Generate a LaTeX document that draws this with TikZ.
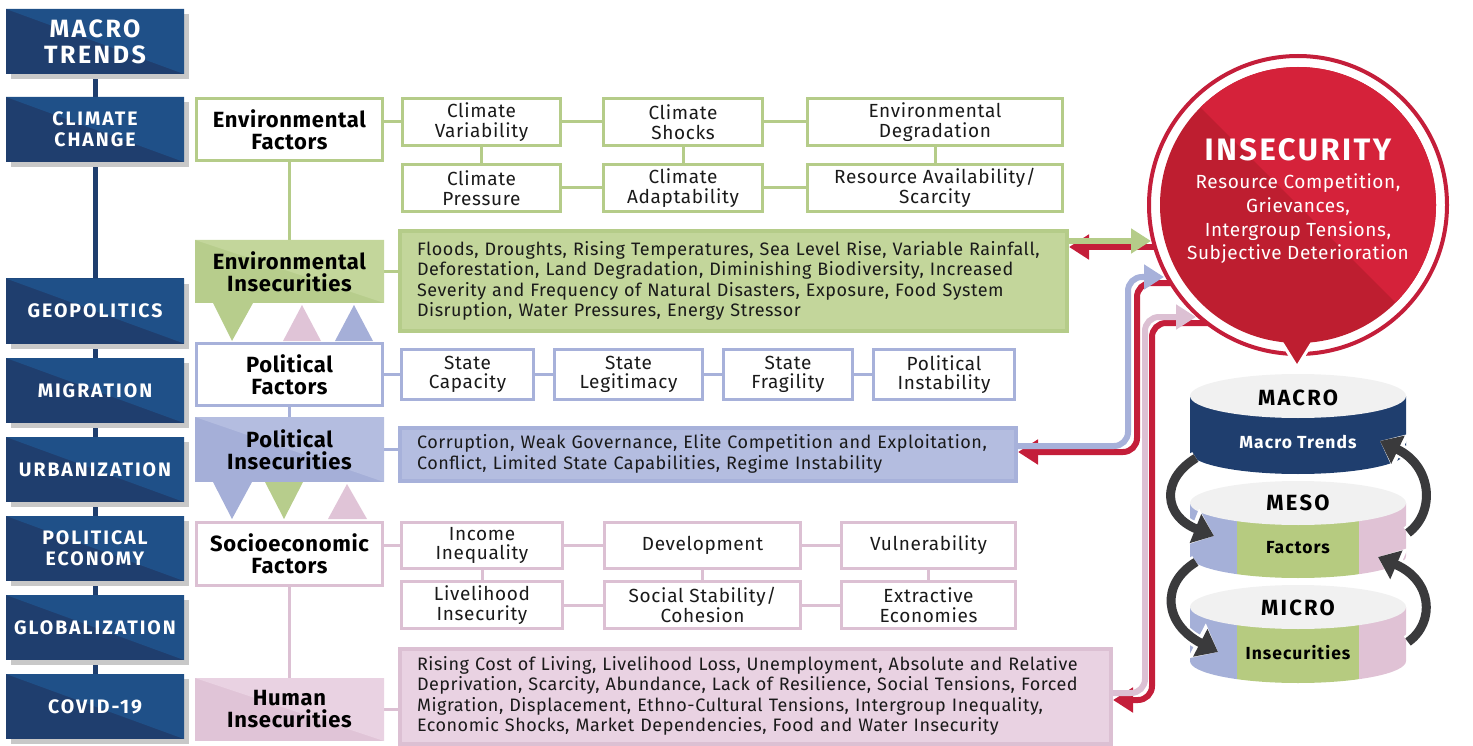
\documentclass[tikz,border=0pt]{standalone}
\usepackage{fontspec}
\setmainfont{Fira Sans}
\usepackage{xcolor}
\usetikzlibrary{arrows.meta,positioning,calc,shadows,backgrounds}
\definecolor{navydark}{RGB}{31,62,110}
\definecolor{navylight}{RGB}{31,80,136}
\definecolor{shadowgray}{RGB}{200,200,200}
\definecolor{envline}{RGB}{181,204,137}
\definecolor{envfill}{RGB}{195,214,155}
\definecolor{envdark}{RGB}{183,205,140}
\definecolor{polline}{RGB}{167,177,218}
\definecolor{polfill}{RGB}{180,189,224}
\definecolor{poldark}{RGB}{165,175,216}
\definecolor{humline}{RGB}{220,192,211}
\definecolor{humfill}{RGB}{233,210,226}
\definecolor{humdark}{RGB}{224,196,215}
\definecolor{insred}{RGB}{196,30,58}
\definecolor{insredlight}{RGB}{213,34,58}
\definecolor{insreddark}{RGB}{190,30,48}
\definecolor{cycgray}{RGB}{58,58,60}
\definecolor{cyltop}{RGB}{241,241,241}
\definecolor{cylgreen}{RGB}{182,203,128}
\definecolor{cylblue}{RGB}{165,176,216}
\definecolor{cylpink}{RGB}{224,194,213}
\definecolor{inktext}{RGB}{26,26,26}

\tikzset{
  halftone/.style={path picture={\fill[#1] (path picture bounding box.north west) -- (path picture bounding box.north east) -- (path picture bounding box.south east) -- cycle;}},
  trendbox/.style={rectangle, fill=navydark, halftone=navylight, minimum width=178pt, minimum height=65pt, inner sep=0pt, align=center, text=white,
    font=\fontsize{19.5}{21}\selectfont\bfseries\addfontfeatures{LetterSpace=10},
    drop shadow={shadow xshift=5pt, shadow yshift=-5pt, fill=shadowgray, opacity=1}},
  factorbox/.style={rectangle, draw=#1, line width=3pt, fill=white, minimum width=186pt, minimum height=62pt, inner sep=0pt, align=center, text=black,
    font=\fontsize{22}{22}\selectfont\bfseries\addfontfeatures{LetterSpace=3}},
  insbox/.style 2 args={rectangle, fill=#1, halftone=#2, minimum width=189pt, minimum height=63pt, inner sep=0pt, align=center, text=black,
    font=\fontsize{22}{22}\selectfont\bfseries\addfontfeatures{LetterSpace=3}},
  smallbox/.style={rectangle, draw=#1, line width=3pt, fill=white, minimum height=47pt, inner sep=0pt, align=center, text=inktext,
    font=\fontsize{19}{19.5}\selectfont\addfontfeatures{LetterSpace=3.5}},
  textbox/.style={rectangle, fill=#1, line width=4pt, inner xsep=17pt, inner ysep=0pt, align=left, text=inktext,
    font=\fontsize{18}{20.5}\selectfont\addfontfeatures{LetterSpace=3}},
  link/.style={draw=#1, line width=3pt},
  flow/.style={draw=#1, line width=6pt, rounded corners=14pt, -{Triangle[length=20pt,width=24pt]}},
  cycarrow/.style={draw=cycgray, line width=9pt, -{Triangle[length=20pt,width=30pt]},
    preaction={draw=white, line width=14pt, -{Triangle[length=24pt,width=38pt]}}},
  cyllabel/.style={font=\fontsize{22}{22}\selectfont\bfseries\addfontfeatures{LetterSpace=10}, text=black},
  cylinner/.style={font=\fontsize{17.5}{18}\selectfont\bfseries\addfontfeatures{LetterSpace=6}},
}

\begin{document}
\begin{tikzpicture}[x=1pt,y=-1pt]
\useasboundingbox (0,0) rectangle (1473,746);

% Macro trends column
\node[trendbox, font=\fontsize{25}{26}\selectfont\bfseries\addfontfeatures{LetterSpace=10}] (macro) at (95,41.5) {MACRO\\TRENDS};
\node[trendbox] (climate) at (95,129.5) {CLIMATE\\CHANGE};
\node[trendbox] (geopol) at (95,311) {GEOPOLITICS};
\node[trendbox] (migration) at (95,390.5) {MIGRATION};
\node[trendbox] (urban) at (95,469.5) {URBANIZATION};
\node[trendbox] (poleco) at (95,548.5) {POLITICAL\\ECONOMY};
\node[trendbox] (global) at (95,627.5) {GLOBALIZATION};
\node[trendbox] (covid) at (95,706.5) {COVID-19};
\begin{scope}[on background layer]
  \draw[navydark, line width=5pt] (macro.south) -- (covid.north);
\end{scope}

% Environmental
\node[factorbox=envline] (envfac) at (289.5,129.5) {Environmental\\Factors};
\node[insbox={envdark}{envfill}] (envins) at (289.5,271.5) {Environmental\\Insecurities};
\node[smallbox=envline, minimum width=158pt] (cv) at (481.5,122) {Climate\\Variability};
\node[smallbox=envline, minimum width=159pt] (cs) at (683,122) {Climate\\Shocks};
\node[smallbox=envline, minimum width=255pt] (ed) at (935,122) {Environmental\\Degradation};
\node[smallbox=envline, minimum width=158pt] (cp) at (481.5,188) {Climate\\Pressure};
\node[smallbox=envline, minimum width=159pt] (ca) at (683,188) {Climate\\Adaptability};
\node[smallbox=envline, minimum width=255pt] (ra) at (935,188) {Resource Availability/\\Scarcity};
\node[textbox=envfill, draw=envline, minimum width=667pt, minimum height=99pt, text width=633pt] (envtext) at (733.5,281)
  {Floods, Droughts, Rising Temperatures, Sea Level Rise, Variable Rainfall,\\
   Deforestation, Land Degradation, Diminishing Biodiversity, Increased\\
   Severity and Frequency of Natural Disasters, Exposure, Food System\\
   Disruption, Water Pressures, Energy Stressor};
\begin{scope}[on background layer]
  \draw[link=envline] (envfac.east |- cv.west) -- (cv.west);
  \draw[link=envline] (cv) -- (cs);
  \draw[link=envline] (cs) -- (ed);
  \draw[link=envline] (cp) -- (ca);
  \draw[link=envline] (ca) -- (ra);
  \draw[link=envline] (cv) -- (cp);
  \draw[link=envline] (cs) -- (ca);
  \draw[link=envline] (ed) -- (ra);
  \draw[link=envline] (envfac) -- (envins);
  \draw[link=envline] (envins.east) -- (envtext.west |- envins.east);
\end{scope}

% Political
\node[factorbox=polline] (polfac) at (289.5,374.5) {Political\\Factors};
\node[insbox={poldark}{polfill}, minimum height=65pt] (polins) at (289.5,449.5) {Political\\Insecurities};
\node[smallbox=polline, minimum width=132pt, minimum height=50pt] (sc) at (467.5,374.5) {State\\Capacity};
\node[smallbox=polline, minimum width=148pt, minimum height=50pt] (sl) at (628.5,374.5) {State\\Legitimacy};
\node[smallbox=polline, minimum width=129pt, minimum height=50pt] (sf) at (788,374.5) {State\\Fragility};
\node[smallbox=polline, minimum width=141pt, minimum height=50pt] (pi) at (944,374.5) {Political\\Instability};
\node[textbox=polfill, draw=polline, minimum width=616pt, minimum height=53pt, text width=582pt] (poltext) at (708,454)
  {Corruption, Weak Governance, Elite Competition and Exploitation,\\
   Conflict, Limited State Capabilities, Regime Instability};
\begin{scope}[on background layer]
  \draw[link=polline] (polfac) -- (sc);
  \draw[link=polline] (sc) -- (sl);
  \draw[link=polline] (sl) -- (sf);
  \draw[link=polline] (sf) -- (pi);
  \draw[link=polline] (polfac) -- (polins);
  \draw[link=polline] (polins.east) -- (poltext.west |- polins.east);
\end{scope}

% Socioeconomic
\node[factorbox=humline, minimum height=63pt] (socfac) at (289.5,554) {Socioeconomic\\Factors};
\node[insbox={humdark}{humfill}] (humins) at (289.5,709.5) {Human\\Insecurities};
\node[smallbox=humline, minimum width=161pt, minimum height=46pt] (ii) at (482,545.5) {Income\\Inequality};
\node[smallbox=humline, minimum width=196pt, minimum height=46pt] (dv) at (702.5,545.5) {Development};
\node[smallbox=humline, minimum width=174pt, minimum height=46pt] (vu) at (928.5,545.5) {Vulnerability};
\node[smallbox=humline, minimum width=161pt] (li) at (482,605) {Livelihood\\Insecurity};
\node[smallbox=humline, minimum width=196pt] (ss) at (702.5,605) {Social Stability/\\Cohesion};
\node[smallbox=humline, minimum width=174pt] (ee) at (928.5,605) {Extractive\\Economies};
\node[textbox=humfill, draw=humline, minimum width=711pt, minimum height=95pt, text width=677pt] (humtext) at (755.5,696)
  {Rising Cost of Living, Livelihood Loss, Unemployment, Absolute and Relative\\
   Deprivation, Scarcity, Abundance, Lack of Resilience, Social Tensions, Forced\\
   Migration, Displacement, Ethno-Cultural Tensions, Intergroup Inequality,\\
   Economic Shocks, Market Dependencies, Food and Water Insecurity};
\begin{scope}[on background layer]
  \draw[link=humline] (socfac.east |- ii.west) -- (ii.west);
  \draw[link=humline] (ii) -- (dv);
  \draw[link=humline] (dv) -- (vu);
  \draw[link=humline] (li) -- (ss);
  \draw[link=humline] (ss) -- (ee);
  \draw[link=humline] (ii) -- (li);
  \draw[link=humline] (dv) -- (ss);
  \draw[link=humline] (vu) -- (ee);
  \draw[link=humline] (socfac) -- (humins);
  \draw[link=humline] (humins.east) -- (humtext.west |- humins.east);
\end{scope}

% Influence triangles
\fill[envdark] (213,303) -- (253,303) -- (232,341) -- cycle;
\fill[humdark] (283,341) -- (321,341) -- (302,305) -- cycle;
\fill[poldark] (335,341) -- (373,341) -- (354,305) -- cycle;
\fill[poldark] (213,482) -- (252,482) -- (232,519) -- cycle;
\fill[envdark] (265,482) -- (303,482) -- (284,519) -- cycle;
\fill[humdark] (328,519) -- (367,519) -- (347,484) -- cycle;

% Feedback arrows (red returns first, under the bubble)
\coordinate (gtip) at (1151,241);
\coordinate (gred) at (1175,247);
\coordinate (btip) at (1164,277);
\coordinate (bred) at (1190,283);
\coordinate (ptip) at (1196,317);
\coordinate (pred) at (1220,323);
\draw[flow=insred] (gred) -- (envtext.east |- gred);
\draw[flow=insred] (bred) -- (1137,283) -- (1137,452) -- (poltext.east |- 0,452);
\draw[flow=insred] (pred) -- (1152,323) -- (1152,700) -- (humtext.east |- 0,700);

% Insecurity bubble
\node[circle, draw=insred, line width=4pt, fill=white, minimum size=298pt, inner sep=0pt] (insec) at (1298,205) {};
\filldraw[fill=insreddark, draw=white, line width=3pt] (1274,330) -- (1297,367) -- (1320,330);
\begin{scope}
  \clip (insec.center) circle[radius=138];
  \fill[insreddark] (1150,50) rectangle (1450,360);
  \fill[insredlight] (1150,57) -- (1450,57) -- (1450,357) -- cycle;
\end{scope}
\node[text=white, font=\fontsize{31}{32}\selectfont\bfseries\addfontfeatures{LetterSpace=8}] (insectitle) at (1298,150) {INSECURITY};
\node[text=white, align=center, font=\fontsize{19}{23.7}\selectfont\addfontfeatures{LetterSpace=3}] (insecsub) at (1298,219)
  {Resource Competition,\\Grievances,\\Intergroup Tensions,\\Subjective Deterioration};

% Feedback arrows into the bubble
\draw[flow=envline] (envtext.east |- gtip) -- (gtip);
\draw[flow=polline] (poltext.east |- 0,446) -- (1128,446) -- (1128,277) -- (btip);
\draw[flow=humline] (humtext.east |- 0,693) -- (1145,693) -- (1145,317) -- (ptip);

% Levels
\fill[navydark] (1190,396) -- (1190,452) arc[start angle=180, end angle=0, x radius=108, y radius=22] -- (1406,396) -- cycle;
\fill[cyltop] (1298,396) ellipse[x radius=108, y radius=22];
\begin{scope}
  \clip (1190,503) -- (1190,556) arc[start angle=180, end angle=0, x radius=108, y radius=22] -- (1406,503) -- cycle;
  \fill[cylblue] (1180,480) rectangle (1237,590);
  \fill[cylgreen] (1237,480) rectangle (1359,590);
  \fill[cylpink] (1359,480) rectangle (1416,590);
\end{scope}
\fill[cyltop] (1298,503) ellipse[x radius=108, y radius=22];
\begin{scope}
  \clip (1190,607) -- (1190,661) arc[start angle=180, end angle=0, x radius=108, y radius=22] -- (1406,607) -- cycle;
  \fill[cylblue] (1180,590) rectangle (1237,700);
  \fill[cylgreen] (1237,590) rectangle (1359,700);
  \fill[cylpink] (1359,590) rectangle (1416,700);
\end{scope}
\fill[cyltop] (1298,607) ellipse[x radius=108, y radius=22];
\node[cyllabel] (lvmacro) at (1298,398) {MACRO};
\node[cylinner, text=white] (lvtrends) at (1298,442) {Macro Trends};
\node[cyllabel] (lvmeso) at (1298,503) {MESO};
\node[cylinner] (lvfactors) at (1298,548) {Factors};
\node[cyllabel] (lvmicro) at (1298,608) {MICRO};
\node[cylinner] (lvinsec) at (1298,653) {Insecurities};

% Cycle arrows
\draw[cycarrow] (1196,458) .. controls (1160,480) and (1164,516) .. (1214,536);
\draw[cycarrow] (1408,533) .. controls (1436,512) and (1432,466) .. (1380,441);
\draw[cycarrow] (1196,562) .. controls (1160,584) and (1164,624) .. (1218,652);
\draw[cycarrow] (1408,642) .. controls (1436,622) and (1432,580) .. (1378,557);
\end{tikzpicture}
\end{document}
